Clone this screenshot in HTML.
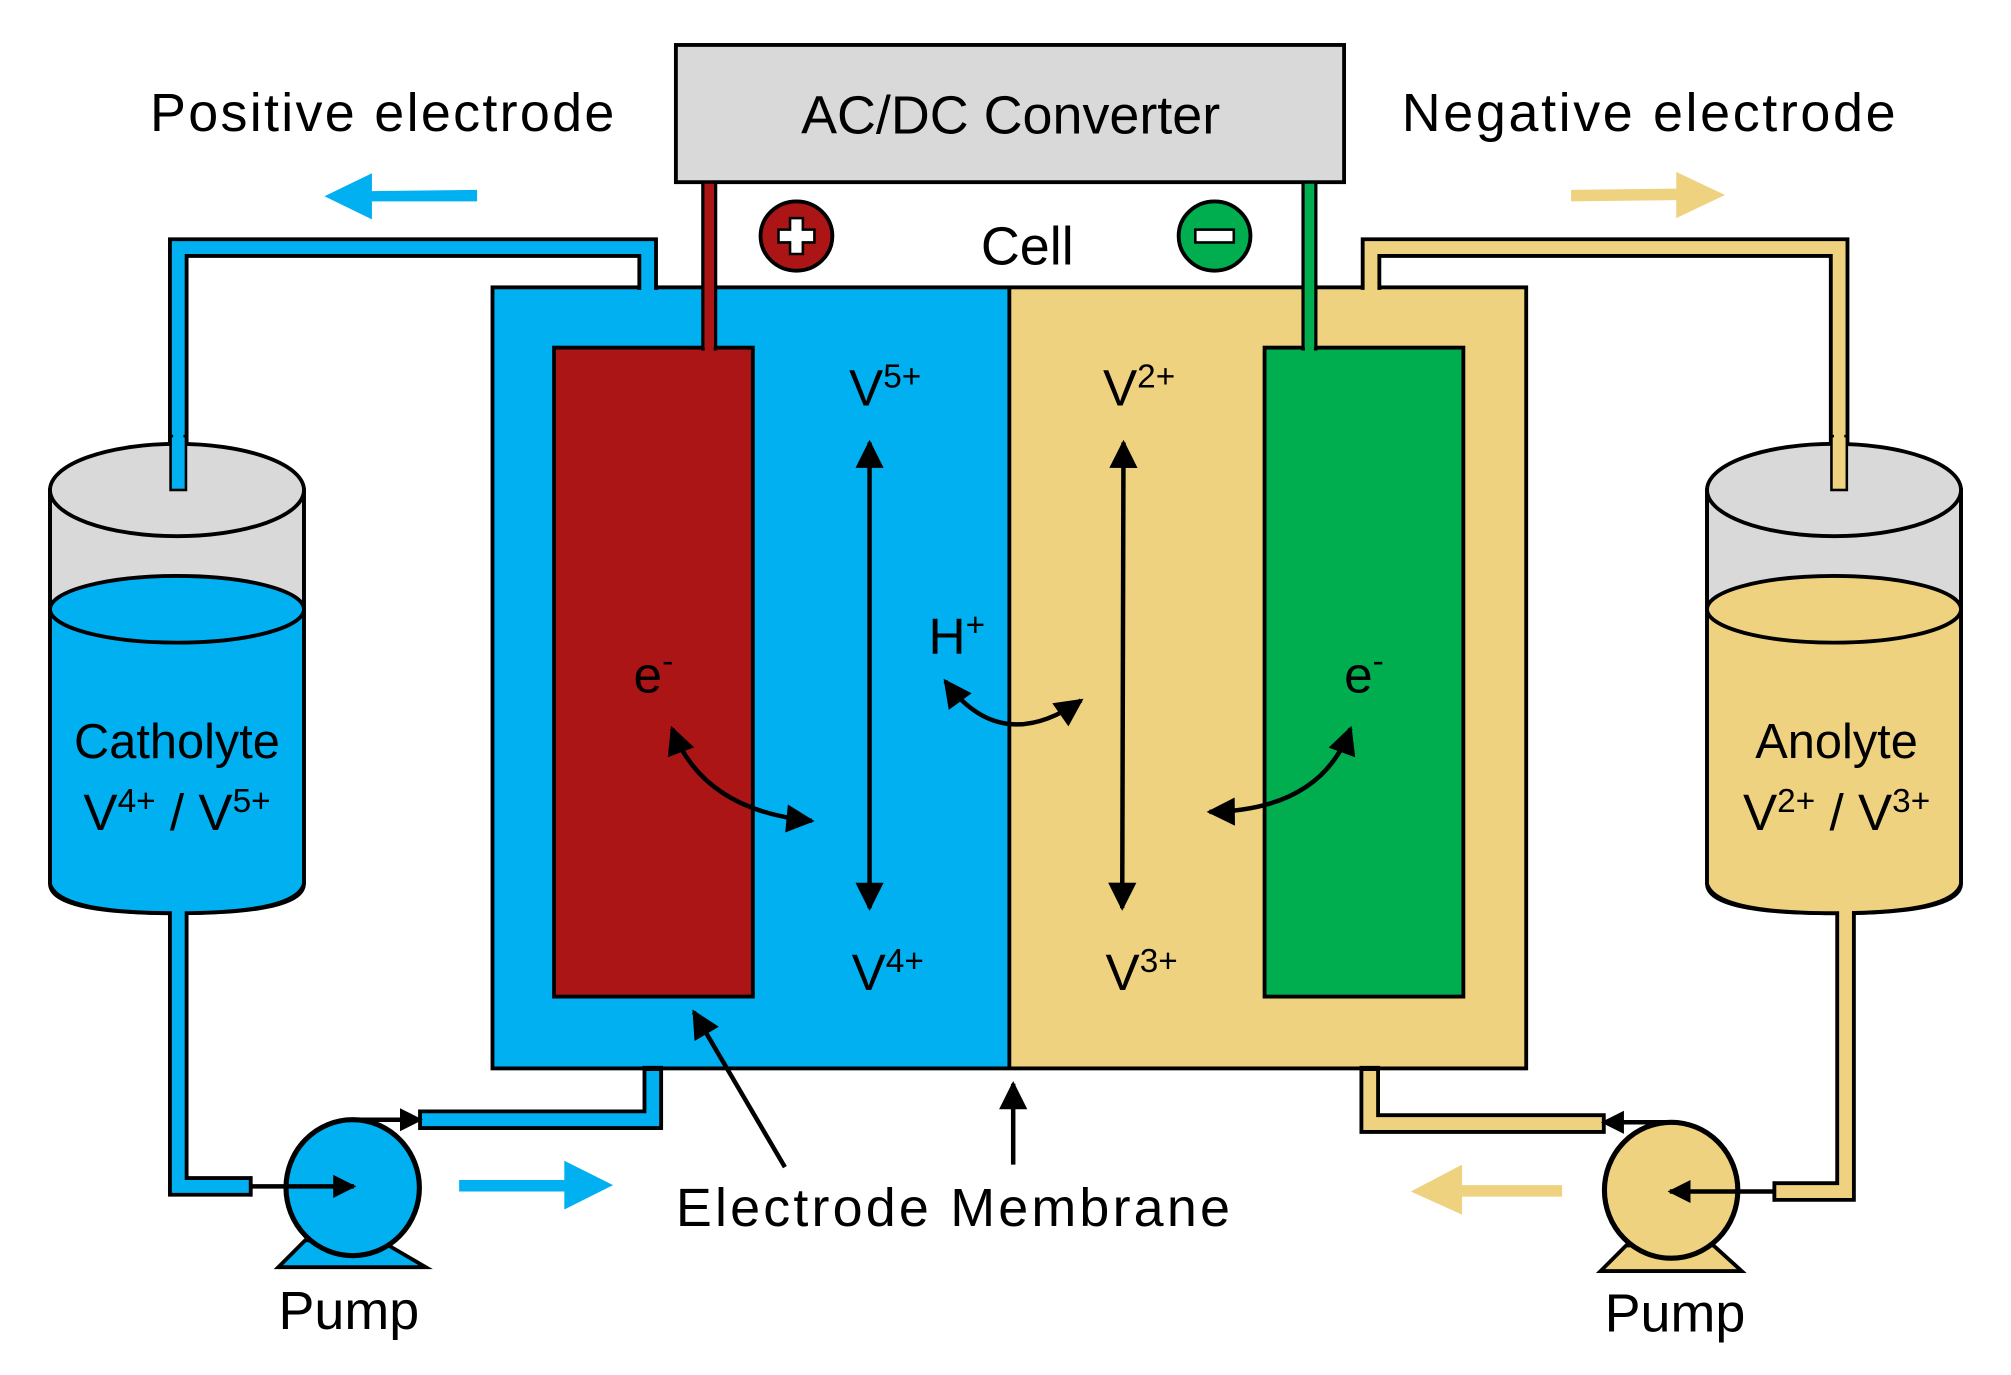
<!DOCTYPE html>
<html><head><meta charset="utf-8"><style>
html,body{margin:0;padding:0;background:#fff;}
svg{display:block;}
text{font-family:"Liberation Sans",sans-serif;fill:#000;}
</style></head><body>
<svg width="2011" height="1375" viewBox="0 0 1568 1072" xmlns="http://www.w3.org/2000/svg">
<defs>
<marker id="ah" viewBox="0 0 10 10" refX="9" refY="5" markerWidth="30" markerHeight="22" markerUnits="userSpaceOnUse" orient="auto-start-reverse">
<path d="M0,0 L10,5 L0,10 z" fill="#000"/></marker>
<marker id="as" viewBox="0 0 10 10" refX="9" refY="5" markerWidth="18" markerHeight="18" markerUnits="userSpaceOnUse" orient="auto-start-reverse">
<path d="M0,0 L10,5 L0,10 z" fill="#000"/></marker>
</defs>

<!-- Converter -->
<rect x="527" y="35" width="521" height="107" fill="#d9d9d9" stroke="#000" stroke-width="3"/>
<text x="788" y="104" font-size="42" text-anchor="middle">AC/DC Converter</text>
<text x="117" y="102" font-size="42" textLength="362">Positive electrode</text>
<text x="1093" y="102" font-size="42" textLength="385">Negative electrode</text>

<!-- flow arrows -->
<path d="M372,148 L290,149 L290,135 L253,153 L290,171 L290,157 L372,157 z" fill="#00b0f0"/>
<path d="M1225,148 L1307,147 L1307,134 L1345,152 L1307,170 L1307,156 L1225,157 z" fill="#eed27f"/>
<path d="M358,920 L440,920 L440,905 L478,924 L440,943 L440,929 L358,929 z" fill="#00b0f0"/>
<path d="M1218,924 L1140,924 L1140,908 L1100,929 L1140,947 L1140,933 L1218,933 z" fill="#eed27f"/>

<!-- cell -->
<rect x="384" y="224" width="403" height="609" fill="#00b0f0"/>
<rect x="787" y="224" width="403" height="609" fill="#eed27f"/>
<rect x="384" y="224" width="806" height="609" fill="none" stroke="#000" stroke-width="3"/>
<line x1="787" y1="224" x2="787" y2="833" stroke="#000" stroke-width="3"/>
<rect x="432" y="271" width="155" height="506" fill="#ab1515" stroke="#000" stroke-width="3"/>
<rect x="986" y="271" width="155" height="506" fill="#00ad4f" stroke="#000" stroke-width="3"/>

<!-- wires -->
<rect x="548" y="142" width="10" height="130" fill="#ab1515" stroke="#000" stroke-width="2.5"/>
<rect x="1016" y="142" width="10" height="130" fill="#00ad4f" stroke="#000" stroke-width="2.5"/>
<rect x="549.5" y="268" width="7" height="6" fill="#ab1515"/>
<rect x="1017.5" y="268" width="7" height="6" fill="#00ad4f"/>

<!-- +/- -->
<ellipse cx="621" cy="184" rx="28" ry="27" fill="#ab1515" stroke="#000" stroke-width="3"/>
<path d="M616,170 h10 v9 h9 v10 h-9 v9 h-10 v-9 h-9 v-10 h9 z" fill="#fff" stroke="#000" stroke-width="2"/>
<ellipse cx="947" cy="184" rx="28" ry="27" fill="#00ad4f" stroke="#000" stroke-width="3"/>
<rect x="932" y="179" width="30" height="10" fill="#fff" stroke="#000" stroke-width="2"/>
<text x="801" y="206" font-size="42" text-anchor="middle">Cell</text>

<!-- top pipes -->
<polyline points="139,382 139,193 505,193 505,226" fill="none" stroke="#000" stroke-width="16"/>
<polyline points="139,382 139,193 505,193 505,228" fill="none" stroke="#00b0f0" stroke-width="10"/>
<polyline points="1434,382 1434,193 1069,193 1069,226" fill="none" stroke="#000" stroke-width="16"/>
<polyline points="1434,382 1434,193 1069,193 1069,228" fill="none" stroke="#eed27f" stroke-width="10"/>

<!-- tanks -->
<g stroke="#000" stroke-width="3">
<path d="M39,382 L39,689 Q39,712 138,712 Q237,712 237,689 L237,382 z" fill="#d9d9d9"/>
<path d="M39,475 L39,689 Q39,712 138,712 Q237,712 237,689 L237,475 z" fill="#00b0f0" stroke="none"/>
<path d="M39,382 L39,689 Q45,712 138,712 Q231,712 237,689 L237,382" fill="none"/>
<ellipse cx="138" cy="475" rx="99" ry="26" fill="#00b0f0"/>
<ellipse cx="138" cy="382" rx="99" ry="36" fill="#d9d9d9"/>

<path d="M1331,382 L1331,689 Q1331,712 1430,712 Q1529,712 1529,689 L1529,382 z" fill="#d9d9d9"/>
<path d="M1331,475 L1331,689 Q1331,712 1430,712 Q1529,712 1529,689 L1529,475 z" fill="#eed27f" stroke="none"/>
<path d="M1331,382 L1331,689 Q1337,712 1430,712 Q1523,712 1529,689 L1529,382" fill="none"/>
<ellipse cx="1430" cy="475" rx="99" ry="26" fill="#eed27f"/>
<ellipse cx="1430" cy="382" rx="99" ry="36" fill="#d9d9d9"/>
</g>
<rect x="133" y="340" width="12" height="42" fill="#00b0f0" stroke="#000" stroke-width="2"/>
<rect x="1428" y="340" width="12" height="42" fill="#eed27f" stroke="#000" stroke-width="2"/>
<rect x="135" y="190" width="8" height="160" fill="#00b0f0"/>
<rect x="1430" y="190" width="8" height="160" fill="#eed27f"/>

<text x="138" y="591" font-size="38" text-anchor="middle">Catholyte</text>
<text x="138" y="647" font-size="40" text-anchor="middle">V<tspan font-size="26" dy="-14">4+</tspan><tspan dy="14"> / V</tspan><tspan font-size="26" dy="-14">5+</tspan></text>
<text x="1432" y="591" font-size="38" text-anchor="middle">Anolyte</text>
<text x="1432" y="647" font-size="40" text-anchor="middle">V<tspan font-size="26" dy="-14">2+</tspan><tspan dy="14"> / V</tspan><tspan font-size="26" dy="-14">3+</tspan></text>

<!-- bottom pipes left -->
<polyline points="139,712 139,925 196,925" fill="none" stroke="#000" stroke-width="16"/>
<polyline points="139,710 139,925 194,925" fill="none" stroke="#00b0f0" stroke-width="10"/>
<line x1="196" y1="917" x2="196" y2="933" stroke="#000" stroke-width="2"/>
<polyline points="327,873 509,873 509,831" fill="none" stroke="#000" stroke-width="16"/>
<polyline points="329,873 509,873 509,835" fill="none" stroke="#00b0f0" stroke-width="10"/>
<line x1="327" y1="865" x2="327" y2="881" stroke="#000" stroke-width="2"/>
<!-- bottom pipes right -->
<polyline points="1439,712 1439,929 1383,929" fill="none" stroke="#000" stroke-width="16"/>
<polyline points="1439,710 1439,929 1385,929" fill="none" stroke="#eed27f" stroke-width="10"/>
<line x1="1383" y1="921" x2="1383" y2="937" stroke="#000" stroke-width="2"/>
<polyline points="1251,876 1068,876 1068,831" fill="none" stroke="#000" stroke-width="16"/>
<polyline points="1249,876 1068,876 1068,835" fill="none" stroke="#eed27f" stroke-width="10"/>
<line x1="1251" y1="868" x2="1251" y2="884" stroke="#000" stroke-width="2"/>

<!-- pumps -->
<path d="M217,988 L238,967 L296,967 L332,988 z" fill="#00b0f0" stroke="#000" stroke-width="3"/>
<ellipse cx="275" cy="926" rx="52" ry="53" fill="#00b0f0" stroke="#000" stroke-width="4"/>
<line x1="196" y1="925" x2="276" y2="925" stroke="#000" stroke-width="3.5" marker-end="url(#as)"/>
<line x1="270" y1="873" x2="328" y2="873" stroke="#000" stroke-width="3.5" marker-end="url(#as)"/>
<path d="M1248,991 L1268,971 L1336,971 L1358,991 z" fill="#eed27f" stroke="#000" stroke-width="3"/>
<ellipse cx="1303" cy="928" rx="52" ry="53" fill="#eed27f" stroke="#000" stroke-width="4"/>
<line x1="1383" y1="929" x2="1302" y2="929" stroke="#000" stroke-width="3.5" marker-end="url(#as)"/>
<line x1="1306" y1="875" x2="1250" y2="875" stroke="#000" stroke-width="3.5" marker-end="url(#as)"/>
<text x="272" y="1036" font-size="42" text-anchor="middle">Pump</text>
<text x="1306" y="1038" font-size="42" text-anchor="middle">Pump</text>

<!-- vertical ion arrows -->
<line x1="678" y1="345" x2="678" y2="708" stroke="#000" stroke-width="3.5" marker-start="url(#ah)" marker-end="url(#ah)"/>
<line x1="876" y1="345" x2="875" y2="708" stroke="#000" stroke-width="3.5" marker-start="url(#ah)" marker-end="url(#ah)"/>
<text x="662" y="316" font-size="40">V<tspan font-size="26" dy="-14">5+</tspan></text>
<text x="860" y="316" font-size="40">V<tspan font-size="26" dy="-14">2+</tspan></text>
<text x="664" y="772" font-size="40">V<tspan font-size="26" dy="-14">4+</tspan></text>
<text x="862" y="772" font-size="40">V<tspan font-size="26" dy="-14">3+</tspan></text>
<text x="724" y="510" font-size="40">H<tspan font-size="26" dy="-14">+</tspan></text>
<text x="494" y="540" font-size="40">e<tspan font-size="26" dy="-16">-</tspan></text>
<text x="1048" y="540" font-size="40">e<tspan font-size="26" dy="-16">-</tspan></text>

<!-- curved arrows -->
<path d="M524,568 Q548,632 633,640" fill="none" stroke="#000" stroke-width="3.5" marker-start="url(#ah)" marker-end="url(#ah)"/>
<path d="M1053,568 Q1030,632 943,633" fill="none" stroke="#000" stroke-width="3.5" marker-start="url(#ah)" marker-end="url(#ah)"/>
<path d="M737,531 Q780,590 843,546" fill="none" stroke="#000" stroke-width="3.5" marker-start="url(#ah)" marker-end="url(#ah)"/>

<!-- labels -->
<line x1="612" y1="910" x2="541" y2="789" stroke="#000" stroke-width="3.5" marker-end="url(#ah)"/>
<line x1="790" y1="908" x2="790" y2="845" stroke="#000" stroke-width="3.5" marker-end="url(#ah)"/>
<text x="527" y="956" font-size="42" textLength="432">Electrode Membrane</text>
</svg>
</body></html>
